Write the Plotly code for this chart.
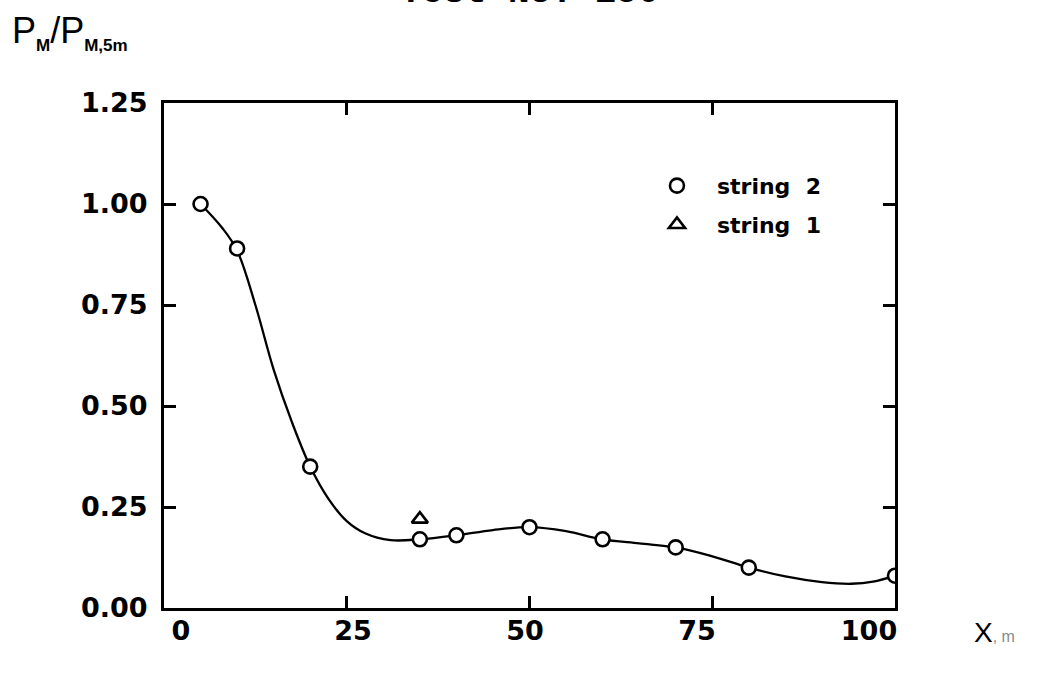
import plotly.graph_objects as go

# Measured points, string 2 (circles) and string 1 (triangle)
x_string2 = [5, 10, 20, 35, 40, 50, 60, 70, 80, 100]
y_string2 = [1.00, 0.89, 0.35, 0.17, 0.18, 0.20, 0.17, 0.15, 0.10, 0.08]
x_string1 = [35]
y_string1 = [0.22]

# Hand-fitted trend curve through the measurements
curve_x = [5, 8, 10, 12.5, 15, 17.5, 20, 22.5, 25, 27.5, 31, 35, 40, 45, 50,
           55, 60, 65, 70, 75, 80, 85, 90, 94, 97, 100]
curve_y = [1.00, 0.94, 0.885, 0.75, 0.59, 0.46, 0.35, 0.27, 0.215, 0.185, 0.168,
           0.17, 0.18, 0.193, 0.20, 0.19, 0.17, 0.16, 0.15, 0.128, 0.10, 0.078,
           0.064, 0.06, 0.065, 0.08]

x_ticks = [0, 25, 50, 75, 100]
x_tick_text = ["0", "25", "50", "75", "100"]
y_ticks = [0, 0.25, 0.5, 0.75, 1.0, 1.25]
y_tick_text = ["0.00", "0.25", "0.50", "0.75", "1.00", "1.25"]

FONT = "DejaVu Sans, sans-serif"
THIN = "Liberation Sans, Arial, sans-serif"

fig = go.Figure()

fig.add_trace(go.Scatter(
    x=curve_x, y=curve_y, mode="lines",
    line=dict(color="black", width=2.3, shape="spline", smoothing=1.0),
    showlegend=False, hoverinfo="skip",
))

fig.add_trace(go.Scatter(
    x=x_string2, y=y_string2, mode="markers", name="string\u00a0\u00a02",
    marker=dict(symbol="circle", size=14, color="white",
                line=dict(color="black", width=2.6)),
    legend="legend",
))

fig.add_trace(go.Scatter(
    x=x_string1, y=y_string1, mode="markers", name="string\u00a0\u00a01",
    marker=dict(symbol="triangle-up", size=14, color="white",
                line=dict(color="black", width=2.6)),
    legend="legend2",
))

# carrier trace for the labelling axis
fig.add_trace(go.Scatter(x=[], y=[], xaxis="x2", showlegend=False, hoverinfo="skip"))

axis_line = dict(showline=True, linecolor="black", linewidth=3, mirror="ticks",
                 ticks="inside", ticklen=12, tickwidth=2.5, tickcolor="black",
                 showgrid=False, zeroline=False)

tick_font = dict(family=FONT, size=27, color="black", weight="bold")
legend_font = dict(family=FONT, size=22, color="black", weight="bold")

sub = "<sub><span style='font-size:17px;font-weight:bold'>{}</span></sub>"

fig.update_layout(
    width=1044, height=675,
    margin=dict(l=164, r=149, t=103, b=67),
    paper_bgcolor="white", plot_bgcolor="white",
    xaxis=dict(range=[0, 100], tickvals=x_ticks, showticklabels=False, **axis_line),
    xaxis2=dict(range=[-2.47, 103.78], overlaying="x", anchor="y", side="bottom",
                tickvals=x_ticks, ticktext=x_tick_text, ticks="",
                showline=False, showgrid=False, zeroline=False,
                ticklabelstandoff=4, tickfont=tick_font),
    yaxis=dict(range=[0, 1.25], tickvals=y_ticks, ticktext=y_tick_text,
               ticklabelstandoff=8, tickfont=tick_font, **axis_line),
    legend=dict(x=0.647, y=0.836, xanchor="left", yanchor="middle",
                itemwidth=70, bgcolor="rgba(0,0,0,0)", font=legend_font),
    legend2=dict(x=0.647, y=0.759, xanchor="left", yanchor="middle",
                 itemwidth=70, bgcolor="rgba(0,0,0,0)", font=legend_font),
    annotations=[
        dict(text="<b>Test No. 150</b>", xref="paper", yref="paper", x=0.5, y=1.218,
             xanchor="center", yanchor="middle", showarrow=False,
             font=dict(family="Liberation Mono, monospace", size=36, color="black")),
        dict(text="P" + sub.format("M") + "/P" + sub.format("M,5m"),
             xref="paper", yref="paper",
             x=-0.21, y=1.14, xanchor="left", yanchor="middle", showarrow=False,
             font=dict(family=THIN, size=36, color="black")),
        dict(text="X<span style='color:#8a8a8a;font-size:16px'>, m</span>",
             xref="paper", yref="paper", x=1.105, y=-0.048,
             xanchor="left", yanchor="middle", showarrow=False,
             font=dict(family=THIN, size=28, color="black")),
    ],
)

fig.write_html("out.html")
